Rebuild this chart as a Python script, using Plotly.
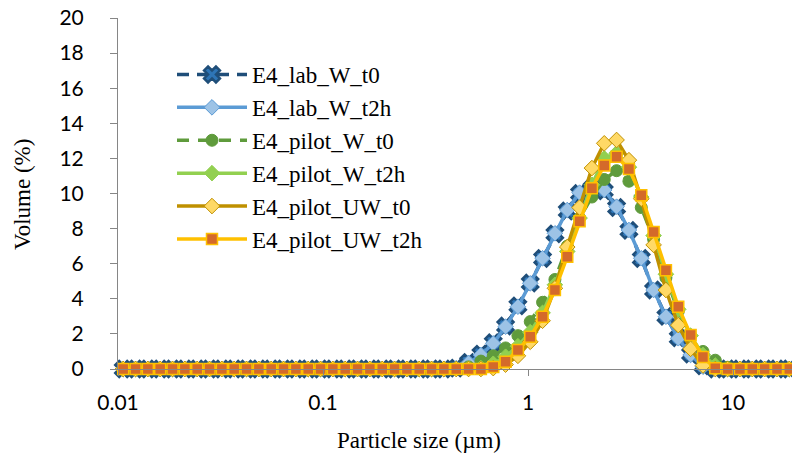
import plotly.graph_objects as go

# Particle size classes (µm)
sizes = [
    0.0106, 0.01218, 0.01398, 0.01606, 0.01845, 0.02119, 0.02434, 0.02796, 0.03211, 0.03688,
    0.04236, 0.04866, 0.05589, 0.06420, 0.07374, 0.08470, 0.09729, 0.1117, 0.1283, 0.1474,
    0.1693, 0.1945, 0.2234, 0.2566, 0.2947, 0.3385, 0.3888, 0.4466, 0.5130, 0.5892,
    0.6768, 0.7774, 0.8929, 1.0256, 1.178, 1.353, 1.554, 1.785, 2.050, 2.355,
    2.705, 3.107, 3.569, 4.099, 4.708, 5.408, 6.212, 7.135, 8.195, 9.413,
    10.81, 12.42, 14.27, 16.39, 18.82,
]

# Volume distributions (%)
lab_W_t0 = [0] * 27 + [
    0.05, 0.38, 0.85, 1.50, 2.45, 3.60, 4.90, 6.30, 7.70, 9.00,
    10.00, 10.30, 10.15, 9.20, 7.90, 6.30, 4.50, 3.00, 1.78, 0.85,
    0.18,
] + [0] * 7

lab_W_t2h = [0] * 27 + [
    0.05, 0.35, 0.80, 1.46, 2.41, 3.55, 4.88, 6.31, 7.73, 9.06,
    10.05, 10.35, 10.20, 9.25, 7.92, 6.31, 4.50, 2.98, 1.75, 0.80,
    0.13,
] + [0] * 7

pilot_W_t0 = [0] * 27 + [
    0.02, 0.12, 0.45, 0.75, 1.20, 1.90, 2.70, 3.80, 5.10, 7.00,
    8.60, 9.80, 10.80, 11.30, 10.70, 9.20, 7.40, 5.20, 3.30, 1.90,
    1.00, 0.50, 0.10,
] + [0] * 5

pilot_W_t2h = [0] * 28 + [
    0.02, 0.05, 0.30, 0.70, 1.30, 2.10, 3.20, 4.80, 6.70, 8.60,
    10.50, 12.00, 12.30, 11.50, 9.80, 7.60, 5.40, 3.40, 1.90, 0.80,
    0.20,
] + [0] * 6

pilot_UW_t0 = [0] * 30 + [
    0.05, 0.25, 0.75, 1.55, 2.75, 4.60, 6.95, 9.20, 11.45, 12.86,
    13.05, 11.90, 9.70, 7.07, 4.50, 2.50, 1.15, 0.20,
] + [0] * 7

pilot_UW_t2h = [0] * 30 + [
    0.12, 0.42, 1.08, 1.84, 2.98, 4.50, 6.40, 8.42, 10.30, 11.60,
    12.10, 11.40, 9.90, 7.80, 5.62, 3.55, 1.94, 0.68, 0.04,
] + [0] * 6

x_tick_values = [0.01, 0.1, 1, 10]
x_tick_labels = ["0.01", "0.1", "1", "10"]
y_tick_values = [0, 2, 4, 6, 8, 10, 12, 14, 16, 18, 20]

series = [
    ("E4_lab_W_t0", lab_W_t0,
     dict(color="#1F4E79", width=3.5, dash="12px,8px"),
     dict(symbol="x", size=14, color="#2E75B6", line=dict(color="#1F4E79", width=2.5))),
    ("E4_lab_W_t2h", lab_W_t2h,
     dict(color="#5B9BD5", width=3.5),
     dict(symbol="diamond", size=12, color="#9DC3E6", line=dict(color="#5B9BD5", width=1))),
    ("E4_pilot_W_t0", pilot_W_t0,
     dict(color="#5F9B3C", width=3.5, dash="12px,9px"),
     dict(symbol="circle", size=12, color="#5F9B3C", line=dict(color="#5F9B3C", width=1))),
    ("E4_pilot_W_t2h", pilot_W_t2h,
     dict(color="#92D050", width=3.5),
     dict(symbol="diamond", size=12, color="#92D050", line=dict(color="#92D050", width=1))),
    ("E4_pilot_UW_t0", pilot_UW_t0,
     dict(color="#BF9000", width=3.5),
     dict(symbol="diamond", size=12, color="#FFD966", line=dict(color="#BF9000", width=1))),
    ("E4_pilot_UW_t2h", pilot_UW_t2h,
     dict(color="#FFC000", width=3.5),
     dict(symbol="square", size=11, color="#D46A2A", line=dict(color="#FFC000", width=1.5))),
]

fig = go.Figure()
for name, values, line_style, marker_style in series:
    fig.add_trace(go.Scatter(
        x=sizes, y=values, name=name, mode="lines+markers",
        line=line_style, marker=marker_style, cliponaxis=False,
    ))

axis_font = dict(family="Lato, Carlito, sans-serif", size=21, color="#000000")
fig.update_xaxes(
    type="log", range=[-2, -2 + 674 / 205],
    tickvals=x_tick_values, ticktext=x_tick_labels,
    showline=True, linecolor="#868686", linewidth=1,
    ticks="outside", ticklen=6, tickcolor="#868686",
    ticklabelstandoff=9, tickfont=axis_font,
    showgrid=False, zeroline=False,
)
fig.update_yaxes(
    range=[0, 20], tickvals=y_tick_values,
    showline=True, linecolor="#868686", linewidth=1,
    ticks="outside", ticklen=7, tickcolor="#868686",
    ticklabelstandoff=22, tickfont=axis_font,
    showgrid=False, zeroline=False,
)

serif = "Liberation Serif, Times New Roman, serif"
title_font = dict(family=serif, size=23, color="#000000")
fig.add_annotation(
    text="Particle size (µm)", xref="paper", yref="paper",
    x=(418.5 - 118) / 674, y=-(440 - 369) / 351,
    showarrow=False, font=title_font, xanchor="center", yanchor="middle",
)
fig.add_annotation(
    text="Volume (%)", xref="paper", yref="paper",
    x=(22 - 118) / 674, y=(369 - 195) / 351, textangle=-90,
    showarrow=False, font=title_font, xanchor="center", yanchor="middle",
)

fig.update_layout(
    width=792, height=455,
    margin=dict(l=118, r=0, t=18, b=86),
    paper_bgcolor="white", plot_bgcolor="white",
    showlegend=True,
    legend=dict(
        x=(172 - 118) / 674, y=1 - (53 - 18) / 351,
        xanchor="left", yanchor="top",
        font=dict(family=serif, size=23, color="#000000"),
        bgcolor="rgba(0,0,0,0)", itemwidth=70,
    ),
)

fig.write_html("out.html")
